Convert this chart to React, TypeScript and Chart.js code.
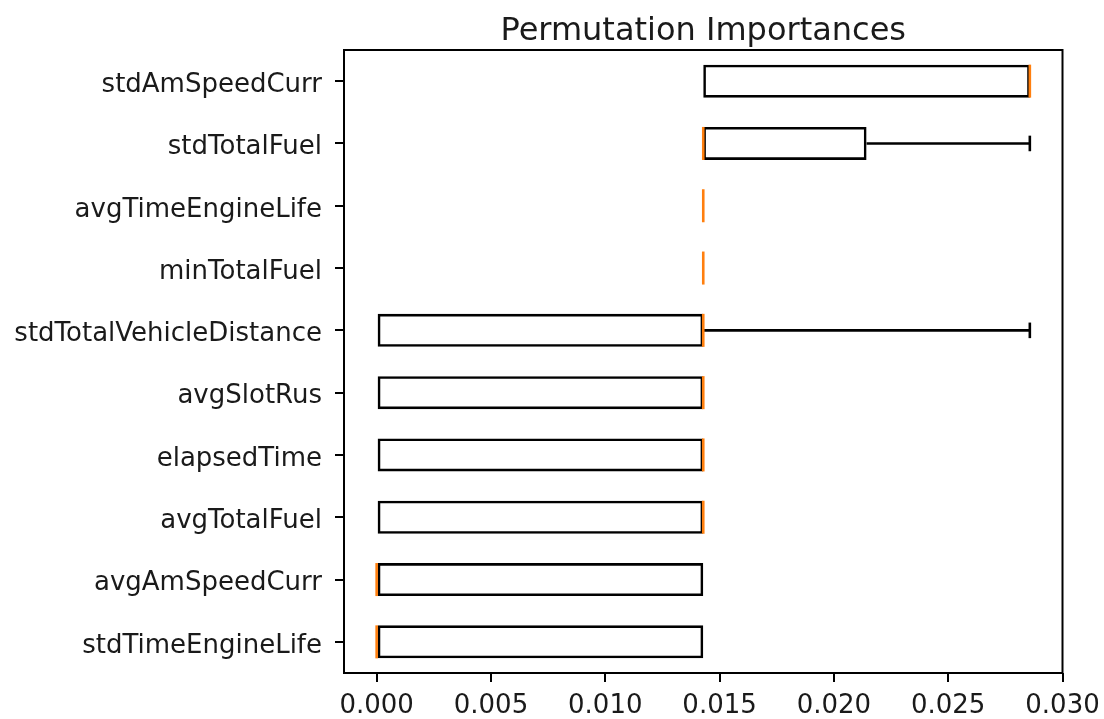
import React, { useEffect, useRef } from "react";
import { Chart, registerables } from "chart.js";

Chart.register(...registerables);

// Features, listed top to bottom
const features = [
  "stdAmSpeedCurr",
  "stdTotalFuel",
  "avgTimeEngineLife",
  "minTotalFuel",
  "stdTotalVehicleDistance",
  "avgSlotRus",
  "elapsedTime",
  "avgTotalFuel",
  "avgAmSpeedCurr",
  "stdTimeEngineLife",
];

// Box-plot statistics of the permutation importances per feature
const whiskerLow = [0.014286, 0.014286, 0.014286, 0.014286, 0, 0, 0, 0, 0, 0];
const q1 = [0.014286, 0.014286, 0.014286, 0.014286, 0, 0, 0, 0, 0, 0];
const median = [0.028571, 0.014286, 0.014286, 0.014286, 0.014286, 0.014286, 0.014286, 0.014286, 0, 0];
const q3 = [0.028571, 0.021429, 0.014286, 0.014286, 0.014286, 0.014286, 0.014286, 0.014286, 0.014286, 0.014286];
const whiskerHigh = [0.028571, 0.028571, 0.014286, 0.014286, 0.028571, 0.014286, 0.014286, 0.014286, 0.014286, 0.014286];

const xTicks = [0, 0.005, 0.01, 0.015, 0.02, 0.025, 0.03];
const xMin = -0.0014286;
const xMax = 0.03;

const titleText = "Permutation Importances";
const FONT = "'DejaVu Sans', sans-serif";
const INK = "#1a1a1a";
const LINE_W = 2.6;
const BOX_FRACTION = 0.53;

// Whiskers, caps, medians, the axes frame and the title, drawn through the chart's scales
const boxExtras = {
  id: "boxExtras",
  afterDatasetsDraw(chart: any) {
    const { ctx, chartArea, scales } = chart;
    const xs = scales.x;
    const ys = scales.y;
    const unit = Math.abs(ys.getPixelForValue(1) - ys.getPixelForValue(0));
    const boxHalf = (unit * BOX_FRACTION) / 2;
    const capHalf = unit * 0.125;
    ctx.save();
    ctx.lineWidth = LINE_W;
    ctx.strokeStyle = "#000";
    features.forEach((_, i) => {
      const y = ys.getPixelForValue(i);
      const segs = [
        [whiskerLow[i], q1[i]],
        [q3[i], whiskerHigh[i]],
      ];
      segs.forEach(([a, b]) => {
        const xa = xs.getPixelForValue(a);
        const xb = xs.getPixelForValue(b);
        if (Math.abs(xb - xa) < 0.5) return; // zero-length whisker: cap sits on the box edge
        ctx.beginPath();
        ctx.moveTo(xa, y);
        ctx.lineTo(xb, y);
        ctx.stroke();
        ctx.beginPath();
        ctx.moveTo(xb, y - capHalf);
        ctx.lineTo(xb, y + capHalf);
        ctx.stroke();
      });
    });
    ctx.strokeStyle = "#ff7f0e";
    features.forEach((_, i) => {
      const y = ys.getPixelForValue(i);
      const x = xs.getPixelForValue(median[i]);
      ctx.beginPath();
      ctx.moveTo(x, y - boxHalf);
      ctx.lineTo(x, y + boxHalf);
      ctx.stroke();
    });
    // frame
    ctx.strokeStyle = "#000";
    ctx.lineWidth = 2;
    ctx.strokeRect(
      chartArea.left,
      chartArea.top,
      chartArea.right - chartArea.left,
      chartArea.bottom - chartArea.top
    );
    // title centred over the axes
    ctx.fillStyle = INK;
    ctx.font = `32px ${FONT}`;
    ctx.textAlign = "center";
    ctx.textBaseline = "alphabetic";
    ctx.fillText(titleText, (chartArea.left + chartArea.right) / 2, 40);
    ctx.restore();
  },
};

export default function App() {
  const canvasRef = useRef<HTMLCanvasElement>(null);

  useEffect(() => {
    document.body.style.margin = "0";
    const canvas = canvasRef.current;
    if (!canvas) return;
    const chart = new Chart(canvas, {
      type: "bar",
      data: {
        labels: features,
        datasets: [
          {
            data: features.map((_, i) => [q1[i], q3[i]]) as any,
            backgroundColor: "rgba(0,0,0,0)",
            borderColor: "#000",
            borderWidth: LINE_W,
            borderSkipped: false,
            inflateAmount: 0,
            barPercentage: BOX_FRACTION,
            categoryPercentage: 1,
          },
        ],
      },
      options: {
        indexAxis: "y",
        animation: false,
        responsive: false,
        devicePixelRatio: 1,
        layout: { padding: { top: 50, right: 41.5, bottom: 0, left: 0 } },
        plugins: {
          legend: { display: false },
          title: { display: false },
          tooltip: { enabled: false },
        },
        scales: {
          x: {
            type: "linear",
            min: xMin,
            max: xMax,
            border: { display: false },
            grid: {
              drawOnChartArea: false,
              drawTicks: true,
              tickLength: 9,
              tickColor: "#000",
              lineWidth: 2,
            },
            ticks: {
              color: INK,
              font: { family: FONT, size: 26 },
              padding: 9,
              maxRotation: 0,
              callback: (v: any) => Number(v).toFixed(3),
            },
            afterBuildTicks: (scale: any) => {
              scale.ticks = xTicks.map((v) => ({ value: v }));
            },
            afterFit: (scale: any) => {
              scale.height = 46;
              scale.paddingLeft = 0;
              scale.paddingRight = 0;
            },
          },
          y: {
            type: "category",
            border: { display: false },
            grid: {
              drawOnChartArea: false,
              drawTicks: true,
              tickLength: 9,
              tickColor: "#000",
              lineWidth: 2,
              offset: false,
            },
            ticks: {
              color: INK,
              font: { family: FONT, size: 26 },
              padding: 13,
              labelOffset: 4,
            },
            afterFit: (scale: any) => {
              scale.width = 344;
              scale.paddingTop = 0;
              scale.paddingBottom = 0;
            },
          },
        },
      },
      plugins: [boxExtras],
    });
    return () => chart.destroy();
  }, []);

  return (
    <div style={{ width: 1104, height: 719, background: "#fff" }}>
      <canvas ref={canvasRef} width={1104} height={719} />
    </div>
  );
}
